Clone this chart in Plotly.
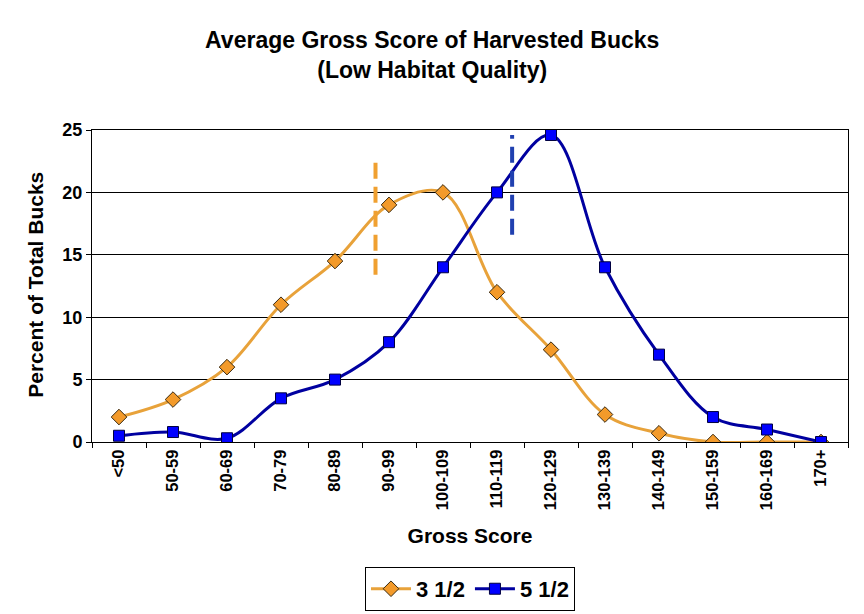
import plotly.graph_objects as go

# Dados
categorias = ['<50', '50-59', '60-69', '70-79', '80-89', '90-99', '100-109',
              '110-119', '120-129', '130-139', '140-149', '150-159', '160-169', '170+']
idade_3_5 = [2, 3.4, 6, 11, 14.5, 19, 20, 12, 7.4, 2.2, 0.7, 0, 0, 0]
idade_5_5 = [0.5, 0.8, 0.3, 3.5, 5, 8, 14, 20, 24.6, 14, 7, 2, 1, 0]

# Linhas tracejadas (posição em índice de categoria e faixa de y)
media_3_5_x = 4.75
media_3_5_y = [13.4, 23]
media_5_5_x = 7.28
media_5_5_y = [16.6, 24.6]

laranja = '#E8A23A'
azul = '#0000A0'

fig = go.Figure()

fig.add_trace(go.Scatter(
    x=categorias, y=idade_3_5,
    mode='lines+markers',
    name='3 1/2',
    line=dict(color=laranja, width=3, shape='spline', smoothing=1),
    marker=dict(symbol='diamond', size=12, color='#F39A2A',
                line=dict(color='#3A2A10', width=1)),
))

fig.add_trace(go.Scatter(
    x=categorias, y=idade_5_5,
    mode='lines+markers',
    name='5 1/2',
    line=dict(color=azul, width=3, shape='spline', smoothing=1),
    marker=dict(symbol='square', size=11, color='#0000FF',
                line=dict(color='#000040', width=1)),
))

# Linhas verticais tracejadas
fig.add_shape(type='line', xref='x', yref='y',
              x0=media_3_5_x, x1=media_3_5_x, y0=media_3_5_y[0], y1=media_3_5_y[1],
              line=dict(color='#F0A030', width=4, dash='16px,8px'))
fig.add_shape(type='line', xref='x', yref='y',
              x0=media_5_5_x, x1=media_5_5_x, y0=media_5_5_y[0], y1=media_5_5_y[1],
              line=dict(color='#2040B0', width=4, dash='16px,8px'))

fonte = 'Liberation Sans, Arial, sans-serif'

# título do eixo y como anotação, para ficar mais à esquerda
fig.add_annotation(
    text='<b>Percent of Total Bucks</b>', textangle=-90,
    xref='paper', yref='paper', x=-0.075, y=0.505,
    xanchor='center', yanchor='middle',
    showarrow=False, font=dict(size=21, family=fonte),
)

# a página tem ~8px de margem no body, compensado nas margens
fig.update_layout(
    width=864, height=614,
    paper_bgcolor='white', plot_bgcolor='white',
    margin=dict(l=84, r=24, t=122, b=179),
    font=dict(family=fonte, color='black'),
    title=dict(
        text='<b>Average Gross Score of Harvested Bucks</b><br><b>(Low Habitat Quality)</b>',
        x=0.491, xref='container', xanchor='center',
        y=0.935, yref='container', yanchor='top',
        font=dict(size=23, family=fonte),
    ),
    xaxis=dict(
        type='category',
        tickangle=-90,
        tickfont=dict(size=16.5, family=fonte, weight='bold'),
        ticks='outside', ticklen=5, tickson='boundaries', tickcolor='black',
        showline=True, linecolor='black', linewidth=1, mirror=True,
        showgrid=False,
        range=[-0.5, 13.5],
        title=dict(text='<b>Gross Score</b>', font=dict(size=21), standoff=19),
    ),
    yaxis=dict(
        range=[0, 25], dtick=5,
        tickfont=dict(size=18, family=fonte, weight='bold'),
        ticks='outside', ticklen=5, tickcolor='black',
        showline=True, linecolor='black', linewidth=1, mirror=True,
        showgrid=True, gridcolor='black', gridwidth=1,
        zeroline=False,
    ),
    legend=dict(
        orientation='h',
        x=0.5, xanchor='center', y=-0.396, yanchor='top',
        bordercolor='black', borderwidth=1,
        font=dict(size=22, family=fonte, weight='bold'),
        itemwidth=40,
    ),
)

fig.write_html('out.html')
